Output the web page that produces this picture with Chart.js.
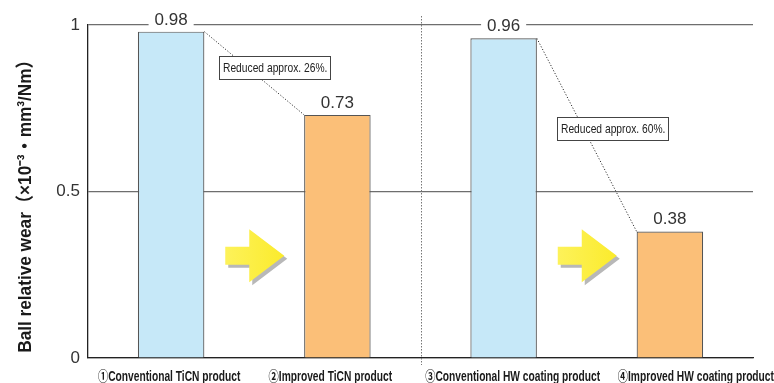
<!DOCTYPE html>
<html>
<head>
<meta charset="utf-8">
<script src="https://cdn.jsdelivr.net/npm/chart.js@4.4.1/dist/chart.umd.min.js"></script>
<style>
  html, body { margin: 0; padding: 0; background: #fff; }
  #wrap { width: 774px; height: 383px; }
</style>
</head>
<body>
<div id="wrap"><canvas id="c" width="774" height="383"></canvas></div>
<script>
// Wear test results: ball relative wear per coating grade
const categories = [
  '①Conventional TiCN product',
  '②Improved TiCN product',
  '③Conventional HW coating product',
  '④Improved HW coating product'
];
const wearValues = [0.98, 0.73, 0.96, 0.38];
const barColors = ['#c6e8f8', '#fbbf78', '#c6e8f8', '#fbbf78'];
const yTickValues = [0, 0.5, 1];
const reductionNotes = ['Reduced approx. 26%.', 'Reduced approx. 60%.'];
const axisTitle = 'Ball relative wear（×10⁻³・mm³/Nm）';

const BASE_FONT = '"Liberation Sans", Arial, "Noto Sans CJK JP", sans-serif';

// Draw horizontally compressed text (condensed look)
function condensedText(ctx, text, x, y, size, weight, sx, align) {
  ctx.save();
  ctx.font = `${weight} ${size}px ${BASE_FONT}`;
  ctx.textBaseline = 'middle';
  ctx.textAlign = align || 'center';
  ctx.translate(x, y);
  ctx.scale(sx, 1);
  ctx.fillText(text, 0, 0);
  ctx.restore();
}

function drawArrow(ctx, cx, cy) {
  const pts = [[-29, -9], [-5, -9], [-5, -26.5], [30, 0], [-5, 26.5], [-5, 9], [-29, 9]];
  const path = (dx, dy) => {
    ctx.beginPath();
    pts.forEach((p, i) => {
      const px = cx + p[0] + dx, py = cy + p[1] + dy;
      i ? ctx.lineTo(px, py) : ctx.moveTo(px, py);
    });
    ctx.closePath();
  };
  ctx.save();
  path(3, 3);
  ctx.fillStyle = '#b8b8b8';
  ctx.fill();
  path(0, 0);
  const g = ctx.createLinearGradient(cx - 29, 0, cx + 30, 0);
  g.addColorStop(0, '#fdf25a');
  g.addColorStop(1, '#fbeb2c');
  ctx.fillStyle = g;
  ctx.fill();
  ctx.restore();
}

const decorations = {
  id: 'decorations',
  afterDatasetsDraw(chart) {
    const ctx = chart.ctx;
    const xs = chart.scales.x, ys = chart.scales.y;
    const area = chart.chartArea;
    const bars = chart.getDatasetMeta(0).data;

    // dotted divider between the TiCN and HW groups
    const divX = Math.round((xs.getPixelForValue(1) + xs.getPixelForValue(2)) / 2) + 0.5;
    ctx.save();
    ctx.strokeStyle = '#777';
    ctx.lineWidth = 1;
    ctx.setLineDash([1.5, 1.5]);
    ctx.beginPath();
    ctx.moveTo(divX, area.top - 9);
    ctx.lineTo(divX, area.bottom + 7);
    ctx.stroke();
    ctx.restore();

    // dotted connectors, reduction notes and arrows for each pair
    const noteY = [0.873, 0.69];
    const noteDx = [15, 20];
    for (let p = 0; p < 2; p++) {
      const a = bars[p * 2], b = bars[p * 2 + 1];
      const x1 = a.x + a.width / 2, y1 = a.y;
      const x2 = b.x - b.width / 2, y2 = b.y;
      ctx.save();
      ctx.strokeStyle = '#333';
      ctx.lineWidth = 1;
      ctx.setLineDash([1.2, 1.8]);
      ctx.beginPath();
      ctx.moveTo(x1, y1);
      ctx.lineTo(x2, y2);
      ctx.stroke();
      ctx.restore();

      // note box
      const sx = 0.76, size = 13.5;
      ctx.save();
      ctx.font = `${size}px ${BASE_FONT}`;
      const tw = ctx.measureText(reductionNotes[p]).width * sx;
      ctx.restore();
      const bw = Math.round(tw + 7), bh = 23;
      const bx = Math.round(x1 + noteDx[p]) + 0.5;
      const by = Math.round(ys.getPixelForValue(noteY[p]) - bh / 2) + 0.5;
      ctx.save();
      ctx.fillStyle = '#fff';
      ctx.fillRect(bx, by, bw, bh);
      ctx.strokeStyle = '#444';
      ctx.lineWidth = 1;
      ctx.strokeRect(bx, by, bw, bh);
      ctx.fillStyle = '#222';
      condensedText(ctx, reductionNotes[p], bx + 3.5, by + bh / 2 + 0.5, size, 'normal', sx, 'left');
      ctx.restore();

      // arrow
      drawArrow(ctx, (a.x + b.x) / 2, ys.getPixelForValue(0.307));
    }

    // value labels above bars, on a white backing
    ctx.save();
    ctx.font = `17px ${BASE_FONT}`;
    ctx.textAlign = 'center';
    ctx.textBaseline = 'alphabetic';
    bars.forEach((bar, i) => {
      const txt = wearValues[i].toFixed(2);
      const base = bar.y - 7;
      const w = ctx.measureText(txt).width + 12;
      ctx.fillStyle = '#fff';
      ctx.fillRect(bar.x - w / 2, base - 15, w, 19);
      ctx.fillStyle = '#333';
      ctx.fillText(txt, bar.x, base);
    });
    ctx.restore();

    // category labels
    const labelShift = [-2, -7, 9, 26];
    ctx.save();
    ctx.fillStyle = '#1a1a1a';
    categories.forEach((c, i) => {
      condensedText(ctx, c, xs.getPixelForValue(i) + labelShift[i], area.bottom + 19, 14, 'bold', 0.73);
    });
    ctx.restore();

    // y axis title
    ctx.save();
    ctx.fillStyle = '#1a1a1a';
    ctx.translate(26, 202);
    ctx.rotate(-Math.PI / 2);
    condensedText(ctx, axisTitle, 0, 0, 18.5, 'bold', 0.93);
    ctx.restore();
  }
};

new Chart(document.getElementById('c'), {
  type: 'bar',
  data: {
    labels: categories,
    datasets: [{
      data: wearValues,
      backgroundColor: barColors,
      borderColor: '#555',
      borderWidth: 1.2,
      barPercentage: 0.4,
      categoryPercentage: 1
    }]
  },
  options: {
    responsive: false,
    devicePixelRatio: 1,
    animation: false,
    layout: { padding: { top: 25, right: 21, left: 0, bottom: 0 } },
    plugins: { legend: { display: false }, tooltip: { enabled: false } },
    scales: {
      x: {
        grid: { display: false },
        border: { display: true, color: '#222', width: 1.3 },
        ticks: { display: false },
        afterFit(s) { s.height = 25; }
      },
      y: {
        min: 0,
        max: 1,
        afterBuildTicks(s) { s.ticks = yTickValues.map(v => ({ value: v })); },
        ticks: {
          color: '#333',
          padding: 8,
          font: { family: BASE_FONT, size: 17 },
          callback: v => String(v)
        },
        grid: { color: '#6e6e6e', lineWidth: 1.2, drawTicks: false },
        border: { display: true, color: '#222', width: 1.3 },
        afterFit(s) { s.width = 88; }
      }
    }
  },
  plugins: [decorations]
});
</script>
</body>
</html>
